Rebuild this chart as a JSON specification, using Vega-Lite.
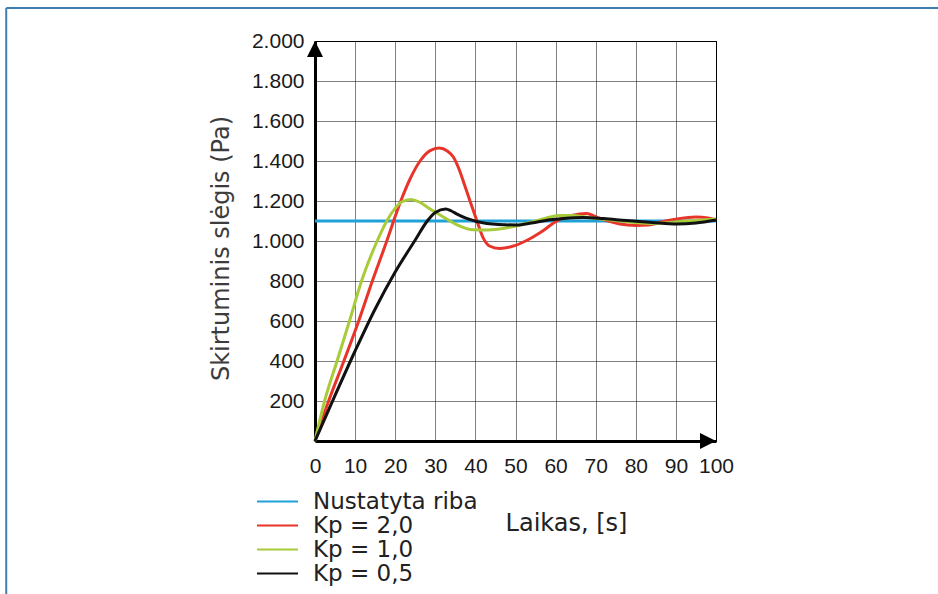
{
  "$schema": "https://vega.github.io/schema/vega-lite/v6.json",
  "autosize": {"type": "none"},
  "width": 401,
  "height": 400,
  "padding": {"left": 315, "top": 41, "right": 222, "bottom": 153},
  "background": "white",
  "config": {
    "view": {"stroke": "black", "strokeWidth": 1},
    "axis": {
      "labelFont": "Liberation Sans",
      "labelFontSize": 21,
      "labelColor": "#1a1a1a",
      "ticks": false,
      "tickSize": 0,
      "domainColor": "black",
      "domainWidth": 3,
      "grid": true,
      "gridColor": "black",
      "gridDash": [1, 1],
      "gridWidth": 1,
      "gridOpacity": 1,
      "titleFont": "DejaVu Sans",
      "titleFontSize": 24,
      "titleFontWeight": "normal",
      "labelFlush": false,
      "labelOverlap": false
    },
    "legend": {
      "labelFont": "DejaVu Sans",
      "labelFontSize": 23,
      "labelColor": "#222222",
      "labelLimit": 0,
      "symbolType": "M-2,0H2",
      "symbolSize": 420,
      "symbolStrokeWidth": 2,
      "labelOffset": 24,
      "rowPadding": 0
    }
  },
  "resolve": {
    "scale": {"x": "shared", "y": "shared"},
    "axis": {"x": "independent", "y": "independent"}
  },
  "datasets": {
    "curves": [
      {"series": "Nustatyta riba", "t": 0, "p": 1100},
      {"series": "Nustatyta riba", "t": 100, "p": 1100},
      {"series": "Kp = 2,0", "t": 0, "p": 0},
      {"series": "Kp = 2,0", "t": 3.4, "p": 200},
      {"series": "Kp = 2,0", "t": 7.2, "p": 400},
      {"series": "Kp = 2,0", "t": 10.9, "p": 600},
      {"series": "Kp = 2,0", "t": 14.3, "p": 800},
      {"series": "Kp = 2,0", "t": 17.9, "p": 1000},
      {"series": "Kp = 2,0", "t": 19.6, "p": 1100},
      {"series": "Kp = 2,0", "t": 21.4, "p": 1200},
      {"series": "Kp = 2,0", "t": 23.7, "p": 1310},
      {"series": "Kp = 2,0", "t": 26.2, "p": 1400},
      {"series": "Kp = 2,0", "t": 28.7, "p": 1452},
      {"series": "Kp = 2,0", "t": 31, "p": 1465},
      {"series": "Kp = 2,0", "t": 33, "p": 1450},
      {"series": "Kp = 2,0", "t": 34.5, "p": 1420},
      {"series": "Kp = 2,0", "t": 36, "p": 1355},
      {"series": "Kp = 2,0", "t": 37.3, "p": 1280},
      {"series": "Kp = 2,0", "t": 38.7, "p": 1197},
      {"series": "Kp = 2,0", "t": 40.3, "p": 1105},
      {"series": "Kp = 2,0", "t": 42, "p": 1013},
      {"series": "Kp = 2,0", "t": 43.5, "p": 975},
      {"series": "Kp = 2,0", "t": 46, "p": 963},
      {"series": "Kp = 2,0", "t": 50, "p": 978},
      {"series": "Kp = 2,0", "t": 53, "p": 1005},
      {"series": "Kp = 2,0", "t": 56, "p": 1040},
      {"series": "Kp = 2,0", "t": 61, "p": 1108},
      {"series": "Kp = 2,0", "t": 64, "p": 1128},
      {"series": "Kp = 2,0", "t": 67.7, "p": 1138},
      {"series": "Kp = 2,0", "t": 71, "p": 1113},
      {"series": "Kp = 2,0", "t": 76, "p": 1085},
      {"series": "Kp = 2,0", "t": 80, "p": 1078},
      {"series": "Kp = 2,0", "t": 83, "p": 1080},
      {"series": "Kp = 2,0", "t": 87.7, "p": 1102},
      {"series": "Kp = 2,0", "t": 92, "p": 1115},
      {"series": "Kp = 2,0", "t": 95, "p": 1120},
      {"series": "Kp = 2,0", "t": 98, "p": 1115},
      {"series": "Kp = 2,0", "t": 100, "p": 1105},
      {"series": "Kp = 1,0", "t": 0, "p": 0},
      {"series": "Kp = 1,0", "t": 2.4, "p": 200},
      {"series": "Kp = 1,0", "t": 5.5, "p": 400},
      {"series": "Kp = 1,0", "t": 8.6, "p": 600},
      {"series": "Kp = 1,0", "t": 11.6, "p": 800},
      {"series": "Kp = 1,0", "t": 15.5, "p": 1000},
      {"series": "Kp = 1,0", "t": 17.9, "p": 1100},
      {"series": "Kp = 1,0", "t": 21.6, "p": 1195},
      {"series": "Kp = 1,0", "t": 23.9, "p": 1207},
      {"series": "Kp = 1,0", "t": 26, "p": 1195},
      {"series": "Kp = 1,0", "t": 28.5, "p": 1163},
      {"series": "Kp = 1,0", "t": 31.2, "p": 1130},
      {"series": "Kp = 1,0", "t": 35, "p": 1085},
      {"series": "Kp = 1,0", "t": 39.5, "p": 1056},
      {"series": "Kp = 1,0", "t": 43, "p": 1055},
      {"series": "Kp = 1,0", "t": 49.5, "p": 1072},
      {"series": "Kp = 1,0", "t": 55, "p": 1100},
      {"series": "Kp = 1,0", "t": 61, "p": 1127},
      {"series": "Kp = 1,0", "t": 64, "p": 1128},
      {"series": "Kp = 1,0", "t": 68, "p": 1118},
      {"series": "Kp = 1,0", "t": 75, "p": 1102},
      {"series": "Kp = 1,0", "t": 80, "p": 1092},
      {"series": "Kp = 1,0", "t": 83.5, "p": 1088},
      {"series": "Kp = 1,0", "t": 90, "p": 1095},
      {"series": "Kp = 1,0", "t": 95, "p": 1103},
      {"series": "Kp = 1,0", "t": 100, "p": 1110},
      {"series": "Kp = 0,5", "t": 0, "p": 0},
      {"series": "Kp = 0,5", "t": 5, "p": 228},
      {"series": "Kp = 0,5", "t": 10, "p": 450},
      {"series": "Kp = 0,5", "t": 15, "p": 660},
      {"series": "Kp = 0,5", "t": 20, "p": 845},
      {"series": "Kp = 0,5", "t": 25, "p": 1005},
      {"series": "Kp = 0,5", "t": 28, "p": 1100},
      {"series": "Kp = 0,5", "t": 30, "p": 1143},
      {"series": "Kp = 0,5", "t": 32.6, "p": 1160},
      {"series": "Kp = 0,5", "t": 34, "p": 1150},
      {"series": "Kp = 0,5", "t": 35.3, "p": 1136},
      {"series": "Kp = 0,5", "t": 37.8, "p": 1113},
      {"series": "Kp = 0,5", "t": 42.8, "p": 1088},
      {"series": "Kp = 0,5", "t": 50.3, "p": 1080},
      {"series": "Kp = 0,5", "t": 54, "p": 1090},
      {"series": "Kp = 0,5", "t": 58.6, "p": 1106},
      {"series": "Kp = 0,5", "t": 62, "p": 1113},
      {"series": "Kp = 0,5", "t": 66.9, "p": 1118},
      {"series": "Kp = 0,5", "t": 72, "p": 1112},
      {"series": "Kp = 0,5", "t": 77.7, "p": 1102},
      {"series": "Kp = 0,5", "t": 84, "p": 1093},
      {"series": "Kp = 0,5", "t": 90.2, "p": 1085},
      {"series": "Kp = 0,5", "t": 95, "p": 1090},
      {"series": "Kp = 0,5", "t": 100, "p": 1105}
    ]
  },
  "layer": [
    {
      "data": {"name": "curves"},
      "mark": {"type": "line", "strokeWidth": 3, "interpolate": "monotone", "clip": false},
      "encoding": {
        "x": {
          "field": "t",
          "type": "quantitative",
          "scale": {"domain": [0, 100], "nice": false, "zero": false},
          "axis": {
            "values": [0, 10, 20, 30, 40, 50, 60, 70, 80, 90, 100],
            "tickCount": 12,
            "labelPadding": 14,
            "title": "Laikas, [s]",
            "titleX": 251,
            "titleY": 82,
            "titleAlign": "center",
            "titleBaseline": "middle",
            "titleColor": "#222222"
          }
        },
        "y": {
          "field": "p",
          "type": "quantitative",
          "scale": {"domain": [0, 2000], "nice": false, "zero": false},
          "axis": {
            "values": [0, 200, 400, 600, 800, 1000, 1200, 1400, 1600, 1800, 2000],
            "tickCount": 12,
            "labelExpr": "datum.value == 0 ? '' : replace(format(datum.value, ','), ',', '.')",
            "labelPadding": 11,
            "title": "Skirtuminis slėgis (Pa)",
            "titleX": -94,
            "titleY": 207,
            "titleAngle": -90,
            "titleAlign": "center",
            "titleBaseline": "middle",
            "titleColor": "#3c3c3c"
          }
        },
        "color": {
          "field": "series",
          "type": "nominal",
          "sort": ["Nustatyta riba", "Kp = 2,0", "Kp = 1,0", "Kp = 0,5"],
          "scale": {
            "domain": ["Nustatyta riba", "Kp = 2,0", "Kp = 1,0", "Kp = 0,5"],
            "range": ["#1ea2d8", "#e8352b", "#a8cb3a", "#111111"]
          },
          "legend": {
            "title": null,
            "orient": "none",
            "legendX": -49,
            "legendY": 449
          }
        }
      }
    },
    {
      "data": {"values": [{}]},
      "mark": {"type": "rule", "clip": false, "color": "#3f7fb2", "strokeWidth": 2},
      "encoding": {
        "x": {"datum": -77, "type": "quantitative", "axis": null},
        "x2": {"datum": 160},
        "y": {"datum": 2165, "type": "quantitative", "axis": null}
      }
    },
    {
      "data": {"values": [{}]},
      "mark": {"type": "rule", "clip": false, "color": "#3f7fb2", "strokeWidth": 2},
      "encoding": {
        "x": {"datum": -77, "type": "quantitative", "axis": null},
        "y": {"datum": 2165, "type": "quantitative", "axis": null},
        "y2": {"datum": -900}
      }
    },
    {
      "data": {"values": [{}]},
      "mark": {"type": "point", "filled": true, "color": "black", "opacity": 1, "size": 1024, "shape": "M0,0L-0.5,1L0.5,1Z", "clip": false},
      "encoding": {
        "x": {"datum": 0, "type": "quantitative", "axis": null},
        "y": {"datum": 2000, "type": "quantitative", "axis": null}
      }
    },
    {
      "data": {"values": [{}]},
      "mark": {"type": "point", "filled": true, "color": "black", "opacity": 1, "size": 1024, "shape": "M0,0L-1,-0.5L-1,0.5Z", "clip": false},
      "encoding": {
        "x": {"datum": 100, "type": "quantitative", "axis": null},
        "y": {"datum": 0, "type": "quantitative", "axis": null}
      }
    }
  ]
}
